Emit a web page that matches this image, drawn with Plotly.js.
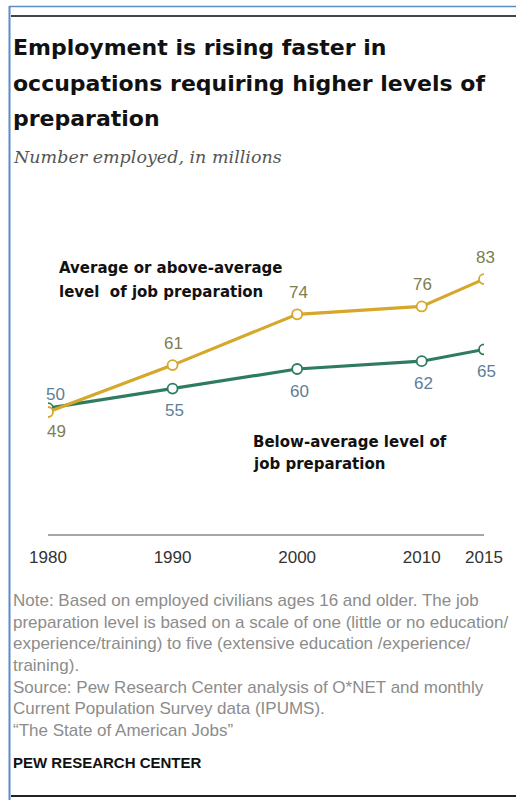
<!DOCTYPE html>
<html>
<head>
<meta charset="utf-8">
<script src="https://cdn.plot.ly/plotly-3.0.1.min.js"></script>
<style>html,body{margin:0;padding:0;background:#fff;}#chart{width:516px;height:800px;}</style>
</head>
<body>
<div id="chart"></div>
<script>
// ---- data ----
var years = [1980, 1990, 2000, 2010, 2015];
var aboveAvg = [49, 61, 74, 76, 83];
var belowAvg = [50, 55, 60, 62, 65];
var tickLabels = ['1980', '1990', '2000', '2010', '2015'];
var titleLines = ['Employment is rising faster in', 'occupations requiring higher levels of', 'preparation'];
var subtitle = 'Number employed, in millions';
var aboveLabel = ['Average or above-average', 'level  of job preparation'];
var belowLabel = ['Below-average level of', 'job preparation'];
var noteLines = [
  'Note: Based on employed civilians ages 16 and older. The job',
  'preparation level is based on a scale of one (little or no education/',
  'experience/training) to five (extensive education /experience/',
  'training).',
  'Source: Pew Research Center analysis of O*NET and monthly',
  'Current Population Survey data (IPUMS).',
  '\u201cThe State of American Jobs\u201d'
];
var source = 'PEW RESEARCH CENTER';

// ---- layout helpers (pixel -> paper) ----
var L = 48, R = 32, T = 240, B = 266, W = 516, H = 800;
var PW = W - L - R, PH = H - T - B;
function px(x) { return (x - L) / PW; }
function py(y) { return (H - B - y) / PH; }

var gold = '#D5A82A', green = '#2E7B62';
var goldText = '#7E7E50', greenText = '#5E7E98';

var traces = [
  {x: years, y: belowAvg, type: 'scatter', mode: 'lines+markers',
   line: {color: green, width: 3.2},
   marker: {size: 10, color: '#fff', line: {color: green, width: 1.8}},
   hoverinfo: 'skip'},
  {x: years, y: aboveAvg, type: 'scatter', mode: 'lines+markers',
   line: {color: gold, width: 3.2},
   marker: {size: 10, color: '#fff', line: {color: gold, width: 1.8}},
   hoverinfo: 'skip'}
];

var ann = [];
var sansFont = 'Liberation Sans, Arial, sans-serif';
var boldFont = 'DejaVu Sans, sans-serif';
titleLines.forEach(function (t, i) {
  var ys = [48, 83, 118];
  ann.push({text: '<b>' + t + '</b>', xref: 'paper', yref: 'paper', x: px(11), y: py(ys[i]),
    xanchor: 'left', yanchor: 'middle', showarrow: false,
    font: {family: boldFont, size: 22, color: '#111'}});
});
ann.push({text: '<i>' + subtitle + '</i>', xref: 'paper', yref: 'paper', x: px(11), y: py(157),
  xanchor: 'left', yanchor: 'middle', showarrow: false,
  font: {family: 'DejaVu Serif, serif', size: 17.5, color: '#555'}});

aboveLabel.forEach(function (t, i) {
  ann.push({text: '<b>' + t + '</b>', xref: 'paper', yref: 'paper', x: px(57), y: py(268 + 24 * i),
    xanchor: 'left', yanchor: 'middle', showarrow: false,
    font: {family: boldFont, size: 15, color: '#111'}});
});
belowLabel.forEach(function (t, i) {
  ann.push({text: '<b>' + t + '</b>', xref: 'paper', yref: 'paper', x: px(251), y: py(442 + 22 * i),
    xanchor: 'left', yanchor: 'middle', showarrow: false,
    font: {family: boldFont, size: 15, color: '#111'}});
});

years.forEach(function (yr, i) {
  ann.push({text: String(aboveAvg[i]), x: yr, y: aboveAvg[i], xref: 'x', yref: 'y',
    yshift: i === 0 ? -19 : 22, xshift: i === 0 ? 8 : 1, showarrow: false,
    font: {family: sansFont, size: 17, color: goldText}});
  ann.push({text: String(belowAvg[i]), x: yr, y: belowAvg[i], xref: 'x', yref: 'y',
    yshift: i === 0 ? 14 : -22, xshift: i === 0 ? 7 : 2, showarrow: false,
    font: {family: sansFont, size: 17, color: greenText}});
});

noteLines.forEach(function (t, i) {
  var ys = [600, 622, 643, 665, 687, 708, 730];
  ann.push({text: t, xref: 'paper', yref: 'paper', x: px(11), y: py(ys[i]),
    xanchor: 'left', yanchor: 'middle', showarrow: false,
    font: {family: sansFont, size: 17, color: '#8C8C8C'}});
});
ann.push({text: '<b>' + source + '</b>', xref: 'paper', yref: 'paper', x: px(11), y: py(762),
  xanchor: 'left', yanchor: 'middle', showarrow: false,
  font: {family: sansFont, size: 15, color: '#111'}});

var shapes = [
  {type: 'line', xref: 'paper', yref: 'paper', x0: px(9.5), x1: px(9.5), y0: py(6), y1: py(800),
   line: {color: '#5B8BC9', width: 2}},
  {type: 'line', xref: 'paper', yref: 'paper', x0: px(9), x1: px(516), y0: py(6.5), y1: py(6.5),
   line: {color: '#5B8BC9', width: 1.5}},
  {type: 'line', xref: 'paper', yref: 'paper', x0: px(11), x1: px(516), y0: py(16), y1: py(16),
   line: {color: '#444', width: 2}},
  {type: 'line', xref: 'paper', yref: 'paper', x0: px(11), x1: px(516), y0: py(796), y1: py(796),
   line: {color: '#222', width: 2}}
];

var layout = {
  width: W, height: H,
  margin: {l: L, r: R, t: T, b: B, pad: 0},
  paper_bgcolor: '#fff', plot_bgcolor: '#fff',
  showlegend: false,
  xaxis: {range: [1980, 2015], tickvals: years, ticktext: tickLabels,
    showgrid: false, zeroline: false, showline: true, linecolor: '#A6A6A6', linewidth: 2,
    ticks: 'outside', ticklen: 7, tickcolor: 'rgba(0,0,0,0)',
    tickfont: {family: sansFont, size: 17, color: '#333'}, fixedrange: true},
  yaxis: {range: [17.8, 93], visible: false, fixedrange: true},
  annotations: ann,
  shapes: shapes
};

Plotly.newPlot('chart', traces, layout, {displayModeBar: false, staticPlot: true});
</script>
</body>
</html>
